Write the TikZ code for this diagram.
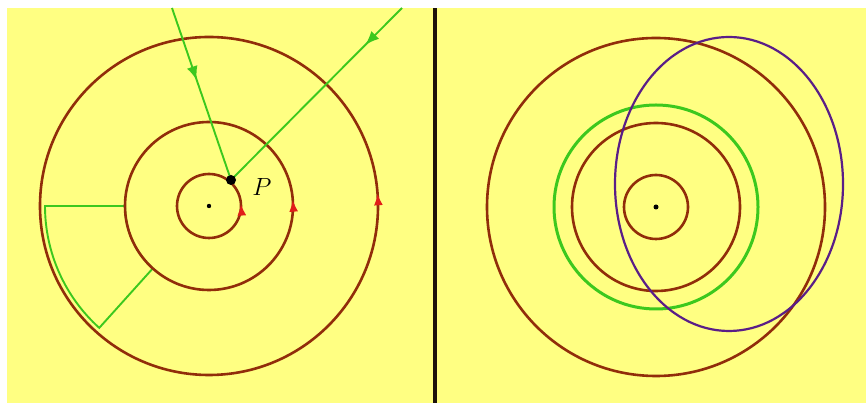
\documentclass[tikz,border=0pt]{standalone}
\usepackage{amsmath,amssymb}
\usepackage{tikz}
\usetikzlibrary{arrows.meta,decorations.markings,calc}

\definecolor{bgyellow}{RGB}{255,255,130}
\definecolor{orbitbrown}{RGB}{145,45,10}
\definecolor{raygreen}{RGB}{60,200,30}
\definecolor{arrowred}{RGB}{225,30,25}
\definecolor{ellpurple}{RGB}{90,30,135}

\begin{document}
\begin{tikzpicture}[
    x=1pt, y=1pt,
    orbit/.style={draw=orbitbrown, line width=2.6pt},
    ray/.style={draw=raygreen, line width=1.9pt},
    spin/.style={postaction={decorate, decoration={markings,
        mark=at position 0.012 with {\arrow[arrowred]{Latex[length=12pt,width=9pt]}}}}},
    rayarrow/.style={postaction={decorate, decoration={markings,
        mark=at position #1 with {\arrow[raygreen]{Latex[length=14pt,width=11pt]}}}}}
]
\useasboundingbox (0,0) rectangle (866,403);
\fill[bgyellow] (7,0) rectangle (866,395);

% left panel
\coordinate (c1) at (209,197);
\coordinate (p) at (231,223);
\coordinate (top1) at (172,395);
\coordinate (top2) at (402,395);

\draw[ray] ($(c1)+(180:164)$) -- ($(c1)+(180:84)$) arc (180:228:84)
    -- ($(c1)+(228:164)$) arc (228:180:164) -- cycle;

\draw[orbit, spin] (c1) circle (32pt);
\draw[orbit, spin] (c1) circle (84pt);
\draw[orbit, spin] (c1) circle (169pt);

\draw[ray, rayarrow=0.42] (top1) -- (p);
\draw[ray, rayarrow=0.215] (top2) -- (p);

\fill (c1) circle (2.2pt);
\fill (p) circle (5pt);
\node (plabel) at (262,216) {\fontsize{29}{31}\selectfont $P$};

% divider
\draw[line width=3.8pt, black!85!brown] (435,0) -- (435,395);

% right panel
\coordinate (c2) at (656,196);
\draw[orbit] (c2) circle (32pt);
\draw[orbit] (c2) circle (84pt);
\draw[orbit] (c2) circle (169pt);
\draw[draw=raygreen, line width=3pt] (c2) circle (102pt);
\draw[draw=ellpurple, line width=2.2pt] (729,219) ellipse (114pt and 147pt);
\fill (c2) circle (2.5pt);
\end{tikzpicture}
\end{document}
